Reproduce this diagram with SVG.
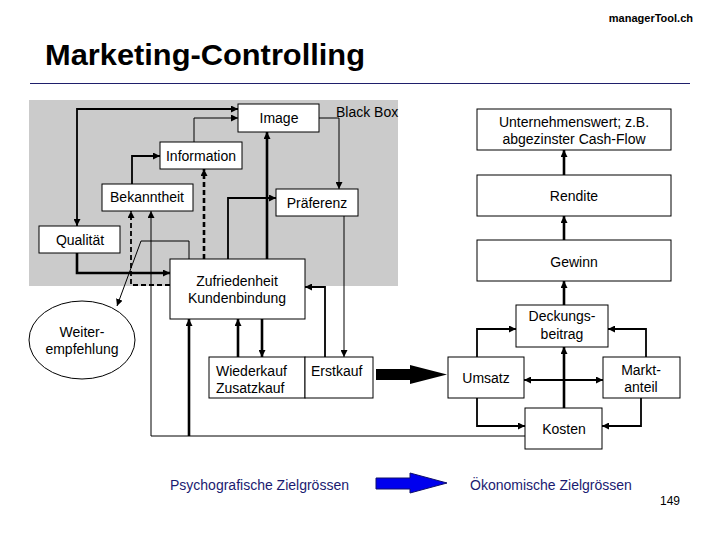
<svg xmlns="http://www.w3.org/2000/svg" width="720" height="540" viewBox="0 0 720 540">
<defs>
<marker id="ah" viewBox="0 0 10 10" refX="10" refY="5" markerWidth="7" markerHeight="7" markerUnits="userSpaceOnUse" orient="auto-start-reverse"><path d="M0,0 L10,5 L0,10 z" fill="#000"/></marker>
<style>
text{font-family:"Liberation Sans",Arial,sans-serif;font-size:14px;fill:#000}
.c{text-anchor:middle}
.box{fill:#fff;stroke:#000;stroke-width:1}
.l{fill:none;stroke:#000;stroke-width:1;marker-end:url(#ah)}
.m{stroke-width:1.8}
.t{stroke-width:2.6}
.d{stroke-dasharray:5,3}
.b{marker-start:url(#ah)}
.leg{fill:#1a1a70}
</style>
</defs>
<rect width="720" height="540" fill="#fff"/>
<text x="693" y="22" style="font-size:11px;font-weight:bold" text-anchor="end">managerTool.ch</text>
<text x="45" y="65" style="font-size:30px;font-weight:bold" textLength="320" lengthAdjust="spacingAndGlyphs">Marketing-Controlling</text>
<line x1="30" y1="83.5" x2="690" y2="83.5" stroke="#1f1f6b" stroke-width="1.2"/>
<rect id="blackbox" x="29" y="100" width="369" height="186" fill="#cbcbcb"/>
<text x="336" y="117">Black Box</text>

<g id="connectors">
<path class="l b m" d="M238,109 H77 V226"/>
<path class="l" d="M194,142 V118 H238"/>
<path class="l m" d="M132,184 V156 H160"/>
<path class="l" d="M319,118 H339 V189"/>
<path class="l t" d="M267,259 V132"/>
<path class="l m" d="M228,259 V198 H276"/>
<path class="l t d" d="M204,259 V169"/>
<path class="l m d" d="M170,285 H131 V211"/>
<path class="l" d="M525,436 H151 V211"/>
<path class="l t" d="M189,436 V319"/>
<path class="l t" d="M77,253 V273 H170"/>
<path class="l" d="M189,259 V241 H141 L117,306"/>
<path class="l" d="M344,216 V357"/>
<path class="l m" d="M325,357 V287 H305"/>
<path class="l t" d="M238,357 V319"/>
<path class="l t" d="M262,319 V357"/>
<path class="l t" d="M564,175 V150"/>
<path class="l t" d="M564,240 V216"/>
<path class="l t" d="M564,305 V281"/>
<path class="l t" d="M564,408 V347"/>
<path class="l m" d="M477,357 V329 H516"/>
<path class="l m" d="M646,357 V329 H608"/>
<path class="l b m" d="M524,380 H603"/>
<path class="l m" d="M477,398 V426 H525"/>
<path class="l m" d="M641,398 V426 H602"/>
<polygon points="376,369 410,369 410,365 447,374.5 410,384 410,380 376,380" fill="#000"/>
</g>

<g id="image"><rect class="box" x="238" y="104" width="81" height="28"/><text class="c" x="279" y="123">Image</text></g>
<g id="information"><rect class="box" x="160" y="142" width="82" height="27"/><text class="c" x="201" y="161">Information</text></g>
<g id="bekanntheit"><rect class="box" x="102" y="184" width="91" height="27"/><text class="c" x="147" y="202">Bekanntheit</text></g>
<g id="praeferenz"><rect class="box" x="276" y="189" width="82" height="27"/><text class="c" x="317" y="208">Präferenz</text></g>
<g id="qualitaet"><rect class="box" x="39" y="226" width="81" height="27"/><text class="c" x="80" y="245">Qualität</text></g>
<g id="zufriedenheit"><rect class="box" x="170" y="259" width="135" height="60"/><text class="c" x="237" y="286">Zufriedenheit</text><text class="c" x="237" y="303">Kundenbindung</text></g>
<g id="weiterempfehlung"><ellipse cx="82" cy="340" rx="53" ry="39" fill="#fff" stroke="#000" stroke-width="1"/><text class="c" x="82" y="337">Weiter-</text><text class="c" x="82" y="354">empfehlung</text></g>
<g id="wiederkauf"><rect class="box" x="209" y="357" width="96" height="41"/><text x="216" y="376">Wiederkauf</text><text x="216" y="393">Zusatzkauf</text></g>
<g id="erstkauf"><rect class="box" x="305" y="357" width="68" height="41"/><text x="311" y="376">Erstkauf</text></g>
<g id="unternehmenswert"><rect class="box" x="477" y="109" width="194" height="41"/><text class="c" x="574" y="127">Unternehmenswert; z.B.</text><text class="c" x="574" y="144">abgezinster Cash-Flow</text></g>
<g id="rendite"><rect class="box" x="477" y="175" width="194" height="41"/><text class="c" x="574" y="201">Rendite</text></g>
<g id="gewinn"><rect class="box" x="477" y="240" width="194" height="41"/><text class="c" x="574" y="267">Gewinn</text></g>
<g id="deckungsbeitrag"><rect class="box" x="516" y="305" width="92" height="42"/><text class="c" x="562" y="321">Deckungs-</text><text class="c" x="562" y="339">beitrag</text></g>
<g id="umsatz"><rect class="box" x="448" y="357" width="76" height="41"/><text class="c" x="486" y="383">Umsatz</text></g>
<g id="marktanteil"><rect class="box" x="603" y="357" width="77" height="41"/><text class="c" x="641" y="375">Markt-</text><text class="c" x="641" y="392">anteil</text></g>
<g id="kosten"><rect class="box" x="525" y="408" width="77" height="41"/><text class="c" x="564" y="434">Kosten</text></g>

<g id="legend">
<text class="leg" x="170" y="490">Psychografische Zielgrössen</text>
<polygon points="376,478 410,478 410,473 447,483 410,493 410,489 376,489" fill="#0000ee" stroke="#10106a" stroke-width="1"/>
<text class="leg" x="470" y="490">Ökonomische Zielgrössen</text>
</g>
<text x="680" y="505" text-anchor="end" style="font-size:12px">149</text>
</svg>
